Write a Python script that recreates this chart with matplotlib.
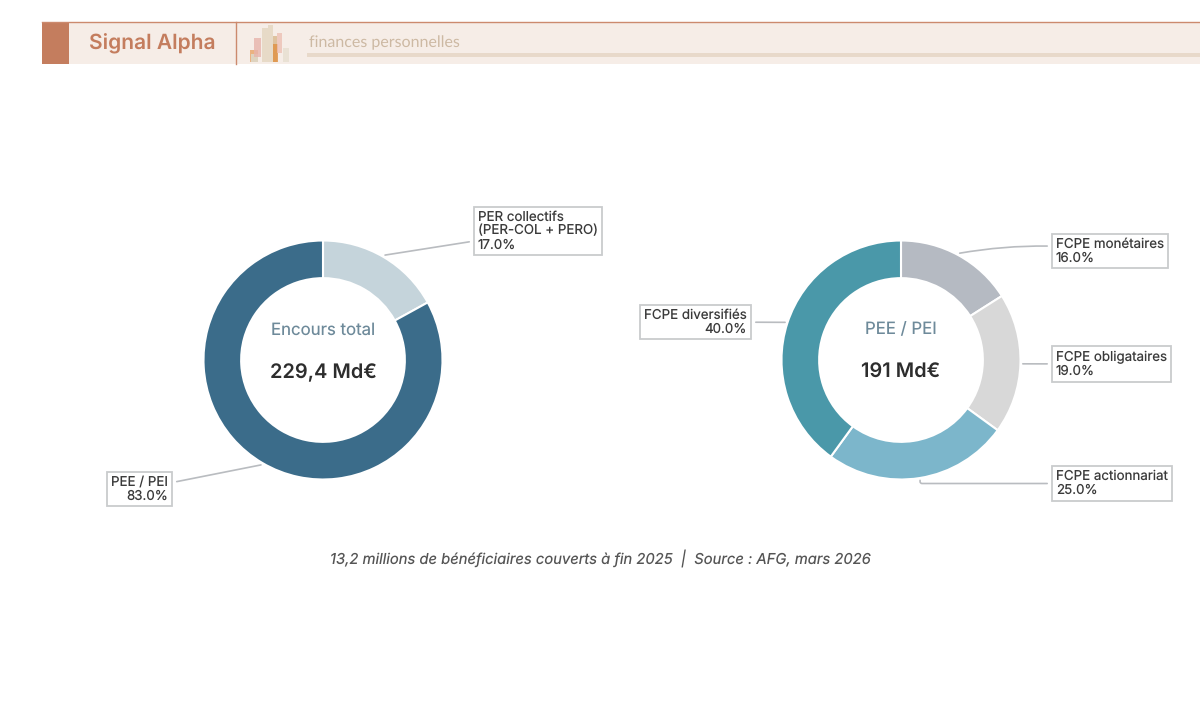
import numpy as np
import matplotlib
matplotlib.use("Agg")
import matplotlib.pyplot as plt
from matplotlib.patches import Rectangle

W, H = 1200, 721

# Donut data
total_labels = ["PER collectifs\n(PER-COL + PERO)", "PEE / PEI"]
total_values = [17.0, 83.0]
total_colors = ["#c5d4db", "#3b6c8a"]

pee_labels = ["FCPE monétaires", "FCPE obligataires", "FCPE actionnariat", "FCPE diversifiés"]
pee_values = [16.0, 19.0, 25.0, 40.0]
pee_colors = ["#b5bac2", "#d8d8d8", "#7cb6cb", "#4a98a9"]

brand = "Signal Alpha"
tagline = "finances personnelles"
caption = "13,2 millions de bénéficiaires couverts à fin 2025  |  Source : AFG, mars 2026"

plt.rcParams["font.family"] = ["Inter", "DejaVu Sans"]
plt.rcParams["text.hinting"] = "no_hinting"
plt.rcParams["text.hinting_factor"] = 1


def fx(x):
    return x / W


def fy(y):
    return 1 - y / H


def draw_header(ax):
    """Top banner, ax is in pixel coordinates with y going down"""
    ax.add_patch(Rectangle((42, 22), W - 42, 42, fc="#f6ede7", ec="none"))
    ax.plot([42, W], [22, 22], color="#cc8a6e", lw=1)
    ax.add_patch(Rectangle((42, 22), 27, 42, fc="#c47d5e", ec="none"))
    ax.plot([236, 236], [22, 64], color="#cc8a6e", lw=1)
    ax.add_patch(Rectangle((307, 53), W - 307, 4, fc="#e8d9ca", ec="none"))
    ax.text(89, 44, brand, color="#c47d5e", fontsize=15.1, fontweight="semibold",
            va="center", ha="left")
    ax.text(309, 42.5, tagline, color="#cdb9a3", fontsize=11.2, family="Lato",
            va="center", ha="left")
    # little skyline logo
    bars = [(250, 50, 8, 12, "#e8a468"), (251, 54, 7, 8, "#dcdccf"),
            (254, 38, 7, 19, "#e8b4ac"), (262, 28, 6, 34, "#e4d6c0"),
            (268, 25, 5, 37, "#e4d6c0"), (273, 36, 4, 26, "#d8b88c"),
            (273, 44, 5, 18, "#e09040"), (277, 33, 5, 20, "#ecc0b4"),
            (283, 48, 6, 14, "#e6dfd0")]
    for x, y, w, h, c in bars:
        ax.add_patch(Rectangle((x, y), w, h, fc=c, ec="none", alpha=0.8))


def draw_donut(cx, cy, radius, values, colors, title, amount):
    ax = fig.add_axes([fx(cx - radius), fy(cy + radius), 2 * radius / W, 2 * radius / H])
    wedges, _ = ax.pie(values, colors=colors, startangle=90, counterclock=False, radius=1,
                       wedgeprops=dict(width=0.315, edgecolor="white", linewidth=1.5))
    ax.set_xlim(-1, 1)
    ax.set_ylim(-1, 1)
    ax.set_aspect("equal")
    ax.patch.set_alpha(0)
    ax.axis("off")
    for w in wedges:
        w.set_clip_on(False)
    fig.text(fx(cx), fy(cy - 30), title, color="#6e8a9a", fontsize=12.1, ha="center", va="center")
    fig.text(fx(cx), fy(cy + 13), amount, color="#2d2d2d", fontsize=14.4, fontweight="semibold",
             ha="center", va="center")
    return ax, wedges


def add_label(ax, wedge, label, value, x, y, ha, conn="arc3,rad=0.0", relpos=None):
    """Boxed label with a leader from the middle of the wedge, x/y is the text anchor in pixels"""
    ang = np.deg2rad((wedge.theta1 + wedge.theta2) / 2)
    props = dict(arrowstyle="-", color="#b9bcc0", lw=1.2, shrinkA=3, shrinkB=0,
                 connectionstyle=conn)
    if relpos is not None:
        props["relpos"] = relpos
    ax.annotate("%s\n%.1f%%" % (label, value),
                xy=(1.02 * np.cos(ang), 1.02 * np.sin(ang)), xycoords="data",
                xytext=(fx(x), fy(y)), textcoords="figure fraction",
                ha=ha, va="center", multialignment=ha, fontsize=9.6, color="#3a3a3a",
                linespacing=1.12, annotation_clip=False, arrowprops=props,
                bbox=dict(boxstyle="square,pad=0.3", fc="white", ec="#c9cbcd", lw=1.3))


fig = plt.figure(figsize=(W / 100, H / 100), dpi=100, facecolor="white")

bg = fig.add_axes([0, 0, 1, 1])
bg.set_xlim(0, W)
bg.set_ylim(H, 0)
bg.axis("off")
draw_header(bg)

ax1, w1 = draw_donut(323, 360, 119.5, total_values, total_colors, "Encours total", "229,4 Md€")
add_label(ax1, w1[0], total_labels[0], total_values[0], 478, 231, "left")
add_label(ax1, w1[1], total_labels[1], total_values[1], 168, 489, "right")

ax2, w2 = draw_donut(901, 360, 119.5, pee_values, pee_colors, "PEE / PEI", "191 Md€")
add_label(ax2, w2[0], pee_labels[0], pee_values[0], 1056, 251, "left", conn="arc3,rad=0.08")
add_label(ax2, w2[1], pee_labels[1], pee_values[1], 1056, 364, "left")
add_label(ax2, w2[2], pee_labels[2], pee_values[2], 1056, 483.5, "left",
          conn="angle,angleA=0,angleB=90,rad=2", relpos=(0, 0.5))
add_label(ax2, w2[3], pee_labels[3], pee_values[3], 747, 322, "right")

fig.text(fx(600.5), fy(558), caption, color="#555555", fontsize=10.65, style="italic",
         ha="center", va="center")

fig.savefig("out.png", dpi=100)
